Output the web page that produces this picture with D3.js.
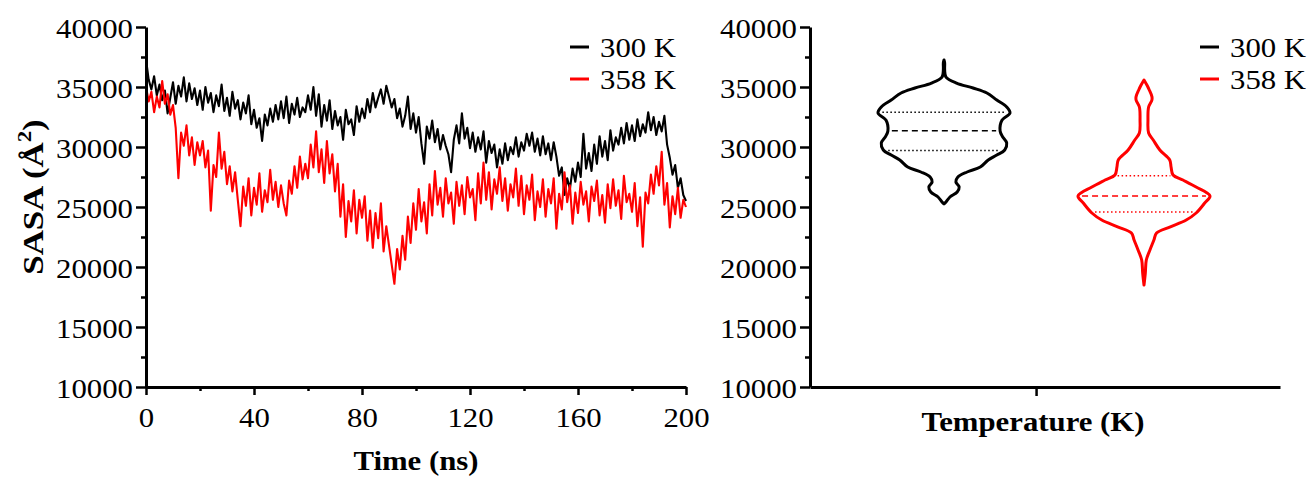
<!DOCTYPE html>
<html>
<head>
<meta charset="utf-8">
<script src="https://cdn.jsdelivr.net/npm/d3@7"></script>
<style>
  html, body { margin: 0; padding: 0; background: #fff; }
  svg { display: block; font-family: "Liberation Serif", "Times New Roman", serif; }
</style>
</head>
<body>
<svg id="chart" width="1309" height="478"></svg>
<script>
//Series y colores
const series = ['300 K', '358 K'];
const colors = ['#000000', '#ff0000'];

//SASA (A^2) cada 1 ns
const sasa300 = [
  37300, 35600, 34800, 35900, 34300, 35200, 33900, 34700, 32800, 34100,
  35400, 33600, 35100, 34200, 35800, 33800, 35300, 34000, 34900, 33500,
  34700, 33100, 35000, 33700, 34500, 32900, 34300, 33400, 35200, 33000,
  34100, 32600, 34600, 33200, 33900, 32300, 33700, 32800, 34300, 31900,
  33100, 31600, 32400, 30500, 32700, 31800, 33200, 32100, 33500, 32300,
  33800, 32400, 34200, 32000, 33600, 32700, 34100, 32500, 33300, 32900,
  34300, 33100, 35000, 32600, 34400, 31700, 33500, 32200, 33900, 31500,
  33000, 31800, 32500, 30600, 33100, 31900, 32300, 31000, 33400, 32100,
  33200, 32400, 34000, 32900, 34500, 33300, 34100, 34800, 33600, 35100,
  34200, 33300, 34000, 32400, 33200, 31700, 32600, 34200, 31500, 32800,
  31200, 32500, 30300, 28600, 31700, 30700, 32200, 30400, 31500, 29800,
  31000, 30100, 29400, 27900, 30600, 31800, 30300, 32800, 30700, 31600,
  29900, 31200, 29600, 30800, 29800, 31300, 28700, 30500, 29500, 30200,
  28300, 29800, 28600, 30300, 28900, 30000, 29400, 30800, 29200, 30400,
  29700, 31100, 30100, 31200, 29600, 30700, 29300, 30900, 29400, 30300,
  28900, 30400, 29200, 27600, 28300, 26000, 27400, 26500, 28200, 27100,
  28700, 27500, 31100, 28200, 29500, 28000, 30200, 28600, 30900, 29200,
  30500, 28900, 31400, 29700, 30800, 30200, 31600, 30300, 32000, 30600,
  31800, 30500, 32300, 30900, 31900, 31200, 32900, 31400, 32500, 31000,
  32100, 31300, 32600, 30200, 29100, 27700, 28500, 26600, 27400, 26000,
  25500
];
const sasa358 = [
  35000, 33800, 34600, 32900, 34200, 33300, 35500, 33600, 34400, 32700,
  33500, 31600, 27400, 31200, 30100, 31800, 29300, 30800, 28500, 30400,
  29300, 30500, 28300, 29700, 24700, 28500, 27500, 31200, 28200, 29600,
  26900, 28400, 26300, 27900, 25600, 23400, 26700, 25100, 27400, 24300,
  26600, 25200, 27800, 24600, 26400, 25400, 28100, 25600, 27100, 25000,
  26800, 25300, 24300, 27200, 26100, 28400, 26600, 29200, 27300, 28600,
  27400, 30200, 28300, 31300, 27900, 29800, 27000, 30500, 27800, 29400,
  26300, 28600, 24200, 26900, 22500, 25500, 23800, 26400, 22800, 25600,
  24100, 25900, 22200, 24700, 21600, 24500, 22400, 25300, 21300, 23400,
  21800, 20200, 18600, 21500, 19800, 22600, 20600, 24200, 22000, 25300,
  23100, 26500, 23800, 25400, 22800, 26900, 24300, 28000, 25200, 26600,
  24200, 27400, 25300, 26200, 23600, 27100, 25100, 26800, 24400, 27500,
  25800, 26500, 23900, 27800, 25300, 28700, 25600, 27900, 24800, 27300,
  26100, 28300, 25500, 27400, 24700, 26900, 25800, 28200, 25100, 27600,
  24400, 26800, 25600, 27700, 23900, 26300, 25000, 27300, 24200, 26500,
  25300, 27400, 23200, 26100, 24800, 27900, 25400, 26800, 23600, 26200,
  24500, 27100, 25200, 26300, 23800, 26700, 25500, 27200, 24300, 26000,
  23700, 26900, 24900, 27300, 25100, 26400, 24000, 27600, 25400, 26100,
  24600, 27000, 23400, 25800, 21700, 26200, 25300, 27700, 26100, 28400,
  26800, 29600, 25200, 27000, 23300, 25900, 24400, 26600, 24100, 25600,
  25000
];
const timeNs = d3.range(0, 201);

//Ticks
const yTicks = [10000, 15000, 20000, 25000, 30000, 35000, 40000];
const yMinor = [12500, 17500, 22500, 27500, 32500, 37500];
const xTicks = [0, 40, 80, 120, 160, 200];
const xMinor = [20, 60, 100, 140, 180];

//Perfiles de los violines: valor SASA y ancho relativo
const violin300Vals = [37250, 37000, 36400, 35833, 35333, 34917, 34500, 33917, 33333, 32833, 32250, 31333, 30833, 30333, 29750, 29333, 28917, 28333, 27917, 27500, 27083, 26667, 26250, 25833, 25417, 25250];
const violin300Dens = [0, 0.01, 0.01, 0.03, 0.19, 0.44, 0.65, 0.80, 0.95, 1.0, 0.88, 0.85, 0.89, 0.95, 0.92, 0.80, 0.67, 0.55, 0.35, 0.21, 0.18, 0.23, 0.20, 0.09, 0.03, 0];
const violin358Vals = [35583, 35100, 34750, 34200, 33917, 33333, 32250, 31167, 30583, 29750, 28917, 28333, 27667, 27250, 26667, 25917, 25333, 24500, 23917, 23333, 22833, 22250, 21417, 20583, 19500, 18500];
const violin358Dens = [0, 0.05, 0.08, 0.12, 0.12, 0.07, 0.06, 0.07, 0.14, 0.24, 0.39, 0.41, 0.44, 0.59, 0.79, 1.0, 0.92, 0.79, 0.64, 0.39, 0.19, 0.15, 0.09, 0.035, 0.02, 0];
//Cuartiles [Q1, mediana, Q3]
const quart300 = [29700, 31360, 32890];
const quart358 = [24580, 25920, 27610];

const SX = 1.14; //texto algo ensanchado en el original
const svg = d3.select('#chart');

function addText(parent, x, y, str, size, anchor, weight, color) {
  return parent.append('text')
    .attr('transform', 'translate(' + x + ',' + y + ') scale(' + SX + ',1)')
    .attr('font-size', size)
    .attr('text-anchor', anchor || 'start')
    .attr('font-weight', weight || 'normal')
    .attr('fill', color || '#000')
    .text(str);
}

function styleY(g) {
  g.attr('font-size', 27).attr('font-family', null);
  g.select('.domain').attr('stroke-width', 3);
  g.selectAll('.tick line').attr('stroke-width', 2.5);
  g.selectAll('.tick text')
    .attr('x', null).attr('dy', null)
    .attr('transform', 'translate(-13,10) scale(' + SX + ',1)')
    .attr('fill', '#000');
}

function minorY(g, y) {
  g.call(d3.axisLeft(y).tickValues(yMinor).tickSize(5).tickFormat(''))
    .call(g => g.select('.domain').remove())
    .selectAll('.tick line').attr('stroke-width', 2.5);
}

/////////////// PANEL IZQUIERDO ///////////////
const W1 = 540, H = 360;
const g1 = svg.append('g').attr('transform', 'translate(146,27)');

let x1 = d3.scaleLinear().domain([0, 200]).range([0, W1]);
let y1 = d3.scaleLinear().domain([10000, 40000]).range([H, 0]);

let line = d3.line()
  .x((d, i) => x1(timeNs[i]))
  .y(d => y1(d));

[sasa300, sasa358].forEach(function(s, k) {
  g1.append('path')
    .datum(s)
    .attr('fill', 'none')
    .attr('stroke', colors[k])
    .attr('stroke-width', 2.1)
    .attr('stroke-linejoin', 'round')
    .attr('d', line);
});

g1.append('g')
  .call(d3.axisLeft(y1).tickValues(yTicks).tickSize(10).tickSizeOuter(0).tickFormat(d3.format('d')))
  .call(styleY);
g1.append('g').call(g => minorY(g, y1));

let gx = g1.append('g')
  .attr('transform', 'translate(0,' + H + ')')
  .call(d3.axisBottom(x1).tickValues(xTicks).tickSize(8).tickSizeOuter(0));
gx.attr('font-size', 27).attr('font-family', null);
gx.select('.domain').attr('stroke-width', 3);
gx.selectAll('.tick line').attr('stroke-width', 2.5);
gx.selectAll('.tick text')
  .attr('y', null).attr('dy', null)
  .attr('transform', 'translate(0,40) scale(' + SX + ',1)')
  .attr('fill', '#000');

g1.append('g')
  .attr('transform', 'translate(0,' + H + ')')
  .call(d3.axisBottom(x1).tickValues(xMinor).tickSize(4).tickFormat(''))
  .call(g => g.select('.domain').remove())
  .selectAll('.tick line').attr('stroke-width', 2.5);

//Título eje X
addText(svg, 416, 470, 'Time (ns)', 27, 'middle', 'bold');

//Título eje Y
let yt = svg.append('text')
  .attr('transform', 'translate(43,197) rotate(-90) scale(1.2,1)')
  .attr('font-size', 29)
  .attr('font-weight', 'bold')
  .attr('text-anchor', 'middle');
yt.append('tspan').text('SASA (Å');
yt.append('tspan').attr('font-size', 19).attr('dy', -12).text('2');
yt.append('tspan').attr('dy', 12).text(')');

//Leyenda
function legend(x, y0) {
  series.forEach(function(s, k) {
    let yy = y0 + k * 32;
    svg.append('line')
      .attr('x1', x).attr('x2', x + 19)
      .attr('y1', yy).attr('y2', yy)
      .attr('stroke', colors[k]).attr('stroke-width', 3);
    addText(svg, x + 30, yy + 10, s, 27, 'start');
  });
}
legend(570, 47);

/////////////// PANEL DERECHO ///////////////
const W2 = 470;
const g2 = svg.append('g').attr('transform', 'translate(810,27)');
let y2 = d3.scaleLinear().domain([10000, 40000]).range([H, 0]);
let xc = d3.scalePoint().domain(series).range([134, 334]);
let wScale = d3.scaleLinear().domain([0, 1]).range([0, 66]);

g2.append('g')
  .call(d3.axisLeft(y2).tickValues(yTicks).tickSize(10).tickSizeOuter(0).tickFormat(d3.format('d')))
  .call(styleY);
g2.append('g').call(g => minorY(g, y2));

let xAx = d3.scaleLinear().domain([0, 1]).range([0, W2]);
let gx2 = g2.append('g')
  .attr('transform', 'translate(0,' + H + ')')
  .call(d3.axisBottom(xAx).tickValues([0.481]).tickSize(9).tickSizeOuter(0).tickFormat(''));
gx2.select('.domain').attr('stroke-width', 3);
gx2.selectAll('.tick line').attr('stroke-width', 2.5);

addText(svg, 1033, 431, 'Temperature (K)', 27, 'middle', 'bold');

const violins = [
  {vals: violin300Vals, dens: violin300Dens, q: quart300},
  {vals: violin358Vals, dens: violin358Dens, q: quart358}
];

violins.forEach(function(v, k) {
  let cx = xc(series[k]);
  let pts = v.vals.map((d, i) => ({v: d, w: v.dens[i]}));
  let area = d3.area()
    .y(d => y2(d.v))
    .x0(d => cx - wScale(d.w))
    .x1(d => cx + wScale(d.w))
    .curve(d3.curveCatmullRom);
  g2.append('path')
    .datum(pts)
    .attr('fill', 'none')
    .attr('stroke', colors[k])
    .attr('stroke-width', 3)
    .attr('stroke-linejoin', 'round')
    .attr('d', area);

  let wAt = d3.scaleLinear().domain(v.vals).range(v.dens);
  v.q.forEach(function(q, j) {
    let hw = wScale(wAt(q)) - 4;
    g2.append('line')
      .attr('x1', cx - hw).attr('x2', cx + hw)
      .attr('y1', y2(q)).attr('y2', y2(q))
      .attr('stroke', colors[k])
      .attr('stroke-width', 1.5)
      .attr('stroke-dasharray', j == 1 ? '6,4' : '1.5,2.5');
  });
});

legend(1200, 47);
</script>
</body>
</html>
